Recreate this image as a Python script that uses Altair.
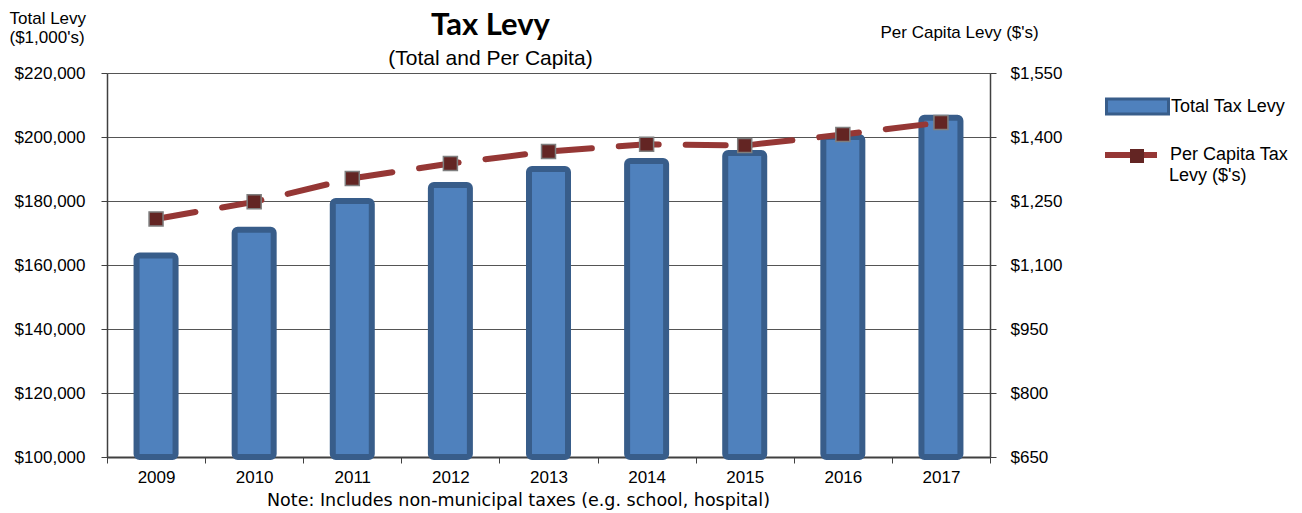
import altair as alt
import pandas as pd

years = ["2009", "2010", "2011", "2012", "2013", "2014", "2015", "2016", "2017"]
total_levy = [163000, 171000, 180000, 185000, 190000, 192500, 195000, 200000, 206000]
per_capita = [1208, 1248, 1303, 1338, 1366, 1383, 1380, 1406, 1434]

left_ticks = [100000, 120000, 140000, 160000, 180000, 200000, 220000]
right_ticks = [650, 800, 950, 1100, 1250, 1400, 1550]

df = pd.DataFrame({
    "Year": years,
    "Total": total_levy,
    "PerCapita": per_capita,
    "s1": ["Total Tax Levy"] * len(years),
    "s2": ["Per Capita Tax"] * len(years),
    "s3": ["Levy ($'s)"] * len(years),
})

FONT = "Liberation Sans"
FS = 17
LFS = 18

x_enc = alt.X(
    "Year:N",
    scale=alt.Scale(paddingInner=0, paddingOuter=0),
    axis=alt.Axis(
        title="Note: Includes non-municipal taxes (e.g. school, hospital)",
        titleFont="DejaVu Sans", titleFontSize=17.5, titleFontWeight="normal",
        titleColor="#000000", titleX=411, titleY=48, titleAlign="center",
        titleBaseline="alphabetic",
        labelAngle=0, labelFont=FONT, labelFontSize=FS, labelColor="#000000",
        labelPadding=6, tickBand="extent", tickSize=6, tickColor="#404040",
        domainColor="#404040", domainWidth=2,
    ),
)

y_left = alt.Y(
    "Total:Q",
    scale=alt.Scale(domain=[100000, 220000], nice=False, zero=False),
    axis=alt.Axis(
        values=left_ticks, format="$,.0f", orient="left",
        title=["Total Levy", "($1,000's)"], titleAngle=0, titleAlign="left",
        titleBaseline="alphabetic", titleX=-98, titleY=-50, titleLineHeight=19,
        titleFont=FONT, titleFontSize=FS, titleFontWeight="normal", titleColor="#000000",
        labelFont=FONT, labelFontSize=FS, labelColor="#000000", labelPadding=16,
        tickSize=6, tickColor="#404040", domainColor="#404040", domainWidth=1.5,
        grid=True, gridColor="#555555", gridWidth=1,
    ),
)

y_right = alt.Y(
    "PerCapita:Q",
    scale=alt.Scale(domain=[650, 1550], nice=False, zero=False),
    axis=alt.Axis(
        values=right_ticks, format="$,.0f", orient="right",
        title="Per Capita Levy ($'s)", titleAngle=0, titleAlign="left",
        titleBaseline="alphabetic", titleX=-110, titleY=-36,
        titleFont=FONT, titleFontSize=FS, titleFontWeight="normal", titleColor="#000000",
        labelFont=FONT, labelFontSize=FS, labelColor="#000000", labelPadding=14,
        tickSize=6, tickColor="#404040", domainColor="#404040", domainWidth=1.5,
        grid=False,
    ),
)

bars = alt.Chart(df).mark_bar(
    size=39, stroke="#385d8a", strokeWidth=6, cornerRadius=3
).encode(
    x=x_enc,
    y=y_left,
    y2=alt.Y2(datum=100000),
    color=alt.Color(
        "s1:N",
        scale=alt.Scale(range=["#4f81bd"]),
        legend=alt.Legend(
            orient="none", legendX=998, legendY=1, title=None, padding=0,
            symbolType="M-1,-0.24L1,-0.24L1,0.24L-1,0.24Z", symbolSize=3844,
            symbolStrokeColor="#385d8a", symbolStrokeWidth=3, symbolOpacity=1,
            labelFont=FONT, labelFontSize=LFS, labelColor="#000000",
            labelOffset=1, labelBaseline="middle", labelLimit=200,
        ),
    ),
    opacity=alt.Opacity(
        "s3:N",
        scale=alt.Scale(range=[1]),
        legend=alt.Legend(
            orient="none", legendX=1044, legendY=94, title=None, padding=0,
            symbolType="M0,0Z", symbolSize=1, symbolOpacity=0,
            symbolStrokeWidth=0, symbolFillColor="white", labelOffset=0,
            labelFont=FONT, labelFontSize=LFS, labelColor="#000000",
            labelBaseline="middle", labelLimit=200,
        ),
    ),
)

line = alt.Chart(df).mark_line(
    strokeWidth=6, strokeDash=[40, 27], strokeCap="round"
).encode(
    x=alt.X("Year:N"),
    y=y_right,
    stroke=alt.Stroke(
        "s2:N",
        scale=alt.Scale(range=["#953735"]),
        legend=alt.Legend(
            orient="none", legendX=998, legendY=56, title=None, padding=0,
            symbolType="M-1,-0.115L1,-0.115L1,0.115L-1,0.115Z", symbolSize=2704,
            symbolFillColor="#953735", symbolStrokeWidth=0, symbolOpacity=1,
            labelFont=FONT, labelFontSize=LFS, labelColor="#000000",
            labelOffset=13, labelBaseline="middle", labelLimit=200,
        ),
    ),
)

points = alt.Chart(df).mark_point(
    filled=True, size=196, fill="#632523", stroke="#7f7f7f", strokeWidth=1.5, opacity=1
).encode(
    x=alt.X("Year:N"),
    y=y_right,
    shape=alt.Shape(
        "s2:N",
        scale=alt.Scale(range=["square"]),
        legend=alt.Legend(
            orient="none", legendX=1022, legendY=75, title=None, padding=0,
            symbolFillColor="#632523", symbolStrokeColor="#7f7f7f",
            symbolStrokeWidth=1.5, symbolSize=196, symbolOpacity=1,
            labelExpr="''",
        ),
    ),
)

right = alt.layer(line, points)

chart = alt.layer(bars, right).resolve_scale(
    y="independent", color="independent", stroke="independent",
    shape="independent", opacity="independent"
).properties(
    width=883,
    height=384,
    padding={"left": 99, "top": 65, "right": 304, "bottom": 56},
    autosize=alt.AutoSizeParams(type="none"),
    title=alt.Title(
        "Tax Levy",
        subtitle="(Total and Per Capita)",
        font="Lato", fontSize=31, fontWeight="bold", color="#000000",
        subtitleFont=FONT, subtitleFontSize=21, subtitleColor="#000000",
        anchor="middle", frame="group", dx=-58, offset=-61, subtitlePadding=6,
    ),
).configure_view(
    stroke="#a0a0a0", strokeWidth=1
).configure(background="white")

chart.save("out.html", embed_options={"renderer": "svg", "actions": False})
